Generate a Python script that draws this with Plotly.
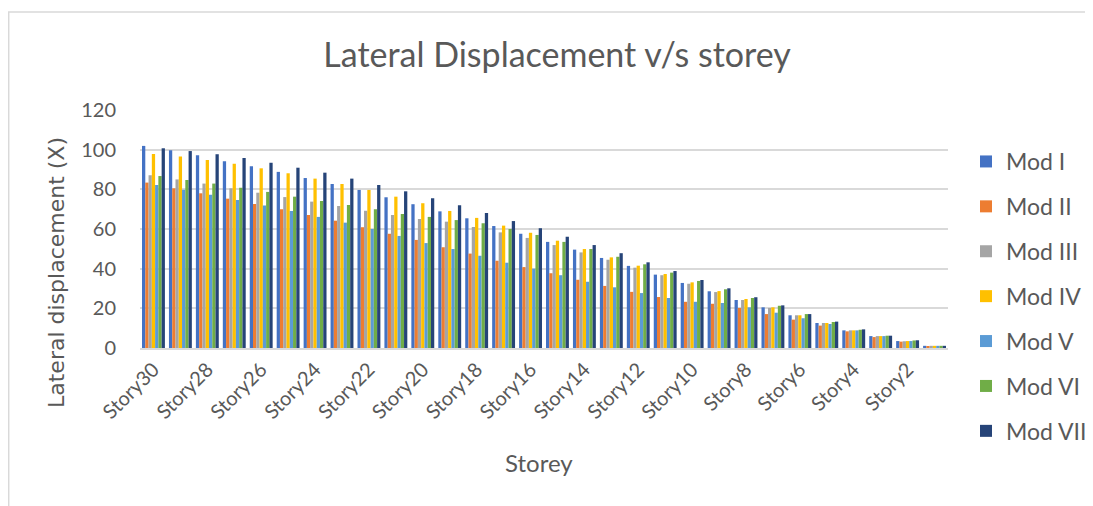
import plotly.graph_objects as go

stories = [f"Story{i}" for i in range(30, 0, -1)]
tick_labels = [f"Story{i}" for i in range(30, 0, -2)]

mod_i = [101.9, 99.7, 97.2, 94.1, 91.6, 88.8, 85.7, 82.7, 79.7, 76.0, 72.5, 68.9, 65.4, 61.5, 57.6,
         53.5, 49.6, 45.4, 41.4, 37.0, 32.8, 28.6, 24.2, 20.5, 16.5, 12.6, 8.9, 6.0, 3.5, 1.1]
mod_ii = [83.4, 80.5, 78.0, 75.3, 72.6, 69.9, 67.1, 64.2, 60.9, 57.6, 54.5, 50.8, 47.6, 44.0, 40.8,
          37.7, 34.4, 31.3, 28.3, 25.7, 23.3, 22.3, 20.2, 17.1, 14.3, 11.3, 8.4, 5.5, 3.2, 1.0]
mod_iii = [87.1, 85.0, 82.9, 80.5, 78.3, 76.1, 73.8, 71.6, 69.2, 67.0, 65.0, 63.7, 61.0, 58.3, 55.5,
           51.9, 48.2, 44.5, 40.5, 36.7, 32.4, 28.2, 24.2, 20.2, 16.5, 12.6, 8.9, 6.0, 3.4, 1.1]
mod_iv = [97.8, 96.5, 94.8, 92.9, 90.6, 88.1, 85.4, 82.7, 79.7, 76.3, 73.0, 69.1, 65.6, 61.7, 58.1,
          54.1, 49.9, 45.7, 41.5, 37.3, 33.1, 28.7, 24.7, 20.5, 16.5, 12.6, 8.9, 6.0, 3.5, 1.1]
mod_v = [82.2, 79.8, 77.3, 74.6, 71.9, 69.1, 66.1, 63.2, 60.0, 56.5, 52.9, 49.9, 46.5, 43.0, 40.0,
         36.7, 33.4, 30.6, 27.7, 25.2, 23.3, 22.7, 20.5, 17.8, 15.0, 12.1, 8.9, 6.0, 3.5, 1.1]
mod_vi = [86.7, 84.7, 82.9, 80.8, 78.7, 76.3, 74.1, 72.1, 69.9, 67.6, 66.1, 64.5, 62.9, 60.0, 57.0,
          53.5, 49.9, 46.0, 42.2, 38.0, 33.8, 29.6, 25.2, 21.3, 17.1, 13.1, 9.2, 6.2, 3.8, 1.1]
mod_vii = [100.7, 99.3, 97.7, 95.8, 93.4, 90.9, 88.4, 85.4, 82.2, 79.0, 75.5, 72.0, 68.1, 64.0, 60.4,
           56.1, 51.9, 47.8, 43.2, 38.8, 34.3, 30.1, 25.6, 21.5, 17.1, 13.3, 9.4, 6.2, 3.9, 1.1]

series_names = ["Mod I", "Mod II", "Mod III", "Mod IV", "Mod V", "Mod VI", "Mod VII"]
series_values = [mod_i, mod_ii, mod_iii, mod_iv, mod_v, mod_vi, mod_vii]
colors = ["#4472C4", "#ED7D31", "#A5A5A5", "#FFC000", "#5B9BD5", "#70AD47", "#264478"]

FONT = "Lato, Carlito, sans-serif"
TXT = "#595959"

fig = go.Figure()
for name, vals, col in zip(series_names, series_values, colors):
    fig.add_trace(go.Bar(x=stories, y=vals, name=name, legendgroup=name,
                         marker=dict(color=col, line=dict(width=0))))

W, H = 1093, 506
OFF = 8  # page body margin offset
# plot area in page pixels
PL, PR, PT, PB = 140, 948, 110, 348
L = PL - OFF
T = PT - OFF
R = W - (PR - OFF)
B = H - (PB - OFF)
pw, ph = PR - PL, PB - PT

def px(xp):
    return (xp - PL) / pw

def py(yp):
    return (PB - yp) / ph

fig.update_layout(
    width=W, height=H,
    margin=dict(l=L, r=R, t=T, b=B, autoexpand=False),
    paper_bgcolor="white", plot_bgcolor="white",
    barmode="group", bargap=0.15, bargroupgap=0.0,
    font=dict(family=FONT, color=TXT),
    title=dict(text="Lateral Displacement v/s storey", xref="container",
               x=(557 - OFF) / W, xanchor="center",
               y=1 - (55 - OFF) / H, yanchor="middle",
               font=dict(family=FONT, size=34, color=TXT)),
    xaxis=dict(categoryorder="array", categoryarray=stories,
               tickmode="array", tickvals=tick_labels, ticktext=tick_labels,
               tickangle=-45, tickfont=dict(size=20, color=TXT),
               showline=True, linecolor="#D9D9D9", linewidth=2,
               showgrid=False, ticks=""),
    yaxis=dict(range=[0, 120], dtick=20, tickfont=dict(size=20, color=TXT),
               showgrid=True, gridcolor="#D9D9D9", gridwidth=1.5,
               zeroline=False, showline=False,
               ticks="outside", ticklen=19, tickcolor="rgba(0,0,0,0)"),
    legend=dict(x=px(966), xanchor="left", y=py(140), yanchor="top",
                font=dict(size=23, color=TXT), tracegroupgap=12,
                maxheight=480, bgcolor="rgba(0,0,0,0)"),
    showlegend=True,
)

fig.add_annotation(text="Storey", xref="paper", yref="paper",
                   x=px(539), y=py(462), xanchor="center", yanchor="middle",
                   showarrow=False, font=dict(family=FONT, size=24, color=TXT))
fig.add_annotation(text="Lateral displacement (X)", xref="paper", yref="paper",
                   x=px(56), y=py(273), xanchor="center", yanchor="middle",
                   textangle=-90, showarrow=False,
                   font=dict(family="DejaVu Sans", size=22, color=TXT))

# outer chart border (partially visible)
fig.add_shape(type="line", xref="paper", yref="paper",
              x0=px(8), x1=px(W + 20), y0=py(12), y1=py(12),
              line=dict(color="#D9D9D9", width=1.5))
fig.add_shape(type="line", xref="paper", yref="paper",
              x0=px(8.7), x1=px(8.7), y0=py(12), y1=py(H + 20),
              line=dict(color="#D9D9D9", width=1.5))

fig.write_html("out.html")
